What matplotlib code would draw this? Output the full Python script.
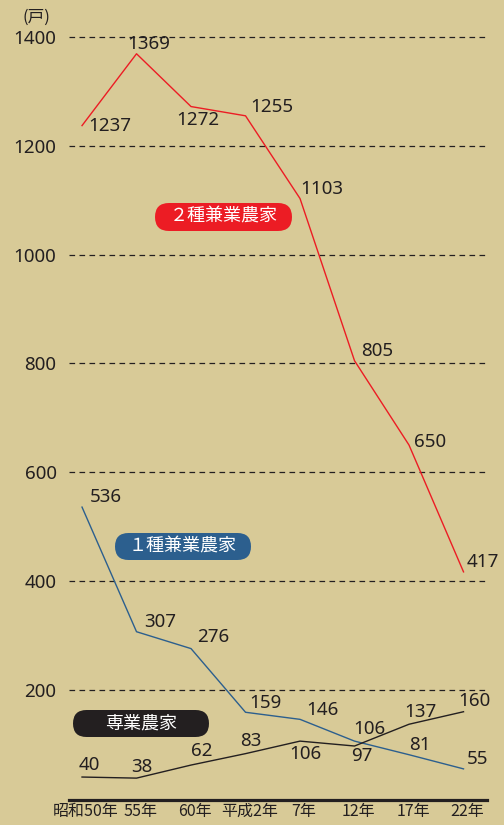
import matplotlib
matplotlib.use("Agg")
import matplotlib.pyplot as plt
import matplotlib.transforms as mtransforms
from matplotlib.patches import FancyBboxPatch

plt.rcParams['font.family'] = ['Noto Sans CJK JP', 'DejaVu Sans']

# 農家数の推移（戸）
years = ["昭和50年", "55年", "60年", "平成2年", "7年", "12年", "17年", "22年"]
kengyo2 = [1237, 1369, 1272, 1255, 1103, 805, 650, 417]
kengyo1 = [536, 307, 276, 159, 146, 106, 81, 55]
sengyo = [40, 38, 62, 83, 106, 97, 137, 160]
yticks = [200, 400, 600, 800, 1000, 1200, 1400]

# label offsets (points) for each value
off_k2 = [(20, 0), (9, 7), (5, -10), (19, 6), (16, 7), (16, 7), (15, 2), (14, 7)]
off_k1 = [(17, 7), (17, 7), (16, 8), (14, 7), (16, 7), (11, 9), (8, 7), (10, 7)]
off_se = [(5, 9), (4, 8), (8, 10), (4, 9), (4, -9), (5, -7), (8, 9), (8, 8)]

BG = "#D8CA97"
RED = "#EC1C24"
BLUE = "#2C5F8E"
BLACK = "#231F20"

W, H = 504, 825
fig = plt.figure(figsize=(W / 100, H / 100), dpi=100, facecolor=BG)
ax = fig.add_axes([69 / W, 25 / H, (487 - 69) / W, 800 / H])
ax.set_facecolor(BG)

x = list(range(len(years)))
ax.plot(x, kengyo2, color=RED, lw=1.0, zorder=3)
ax.plot(x, kengyo1, color=BLUE, lw=1.0, zorder=3)
ax.plot(x, sengyo, color=BLACK, lw=1.0, zorder=3)

num_font = ['Noto Sans', 'DejaVu Sans']
for series, offs in ((kengyo2, off_k2), (kengyo1, off_k1), (sengyo, off_se)):
    for i, (v, (dx, dy)) in enumerate(zip(series, offs)):
        ax.annotate(str(v), (i, v), xytext=(dx, dy), textcoords="offset points",
                    ha="center", va="center", fontsize=13.5, color=BLACK,
                    family=num_font, annotation_clip=False, zorder=4)

ax.set_xlim(-0.239, 7.431)
ax.set_ylim(-2.2, 1467.8)

ax.set_yticks(yticks)
ax.set_yticklabels([str(t) for t in yticks], family=num_font, fontsize=13.5, color=BLACK)
ax.tick_params(axis="y", length=0, pad=9)
ax.grid(axis="y", color=BLACK, lw=0.9, linestyle=(0, (4.5, 3.5)))
ax.set_axisbelow(True)

ax.set_xticks(x)
ax.set_xticklabels(years, fontsize=11.5, color=BLACK)
ax.tick_params(axis="x", length=0, pad=2)
shift = mtransforms.ScaledTranslation(4 / 100, 0, fig.dpi_scale_trans)
for lab in ax.get_xticklabels():
    lab.set_transform(lab.get_transform() + shift)

for s in ("top", "right", "left"):
    ax.spines[s].set_visible(False)
ax.spines["bottom"].set_color(BLACK)
ax.spines["bottom"].set_linewidth(2.3)

fig.text(36 / W, 1 - 17 / H, "(戸)", ha="center", va="center", fontsize=12, color=BLACK)


# pill-shaped series labels; x0..x1 and top..bottom given in pixels from top-left
def pill(x0, top, x1, bottom, color, text):
    w = (x1 - x0) / 100
    h = (bottom - top) / 100
    box = FancyBboxPatch((x0 / 100, (H - bottom) / 100), w, h,
                         boxstyle=f"round,pad=0,rounding_size={h / 2}",
                         fc=color, ec="none", transform=fig.dpi_scale_trans, zorder=5)
    fig.add_artist(box)
    fig.text((x0 + x1) / 2 / W, 1 - (top + bottom) / 2 / H, text, ha="center", va="center",
             color="white", fontsize=13, zorder=6)


pill(155, 203, 292, 231, RED, "２種兼業農家")
pill(115, 533, 251, 560, BLUE, "１種兼業農家")
pill(73, 710, 209, 737, BLACK, "専業農家")

fig.savefig("out.png", dpi=100, facecolor=BG)
